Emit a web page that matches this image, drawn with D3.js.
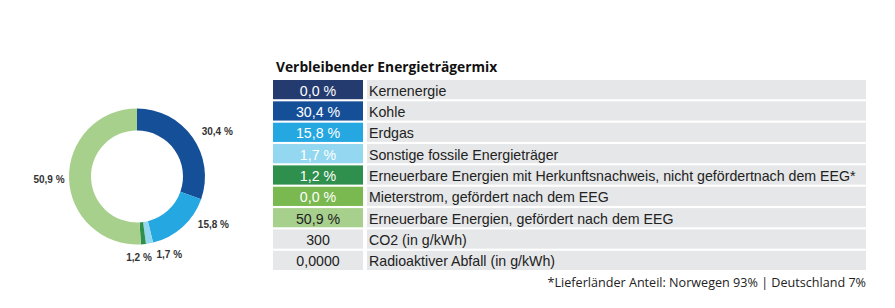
<!DOCTYPE html>
<html>
<head>
<meta charset="utf-8">
<script src="https://cdn.jsdelivr.net/npm/d3@7"></script>
<style>
  body { margin: 0; background: #fff; }
  svg { display: block; }
</style>
</head>
<body>
<svg id="chart"></svg>
<script>
// Table rows (top to bottom)
const rowLabels = [
  'Kernenergie',
  'Kohle',
  'Erdgas',
  'Sonstige fossile Energieträger',
  'Erneuerbare Energien mit Herkunftsnachweis, nicht gefördertnach dem EEG*',
  'Mieterstrom, gefördert nach dem EEG',
  'Erneuerbare Energien, gefördert nach dem EEG',
  'CO2 (in g/kWh)',
  'Radioaktiver Abfall (in g/kWh)'
];
const rowValues = ['0,0 %', '30,4 %', '15,8 %', '1,7 %', '1,2 %', '0,0 %', '50,9 %', '300', '0,0000'];
const rowColors = ['#243b6f', '#154f97', '#25a7e1', '#93d7f0', '#2f8f4c', '#7ab850', '#a8d08d', '#e6e7e8', '#e6e7e8'];
const rowTextColors = ['#fff', '#fff', '#fff', '#fff', '#fff', '#fff', '#222', '#222', '#222'];

// Donut shares (percent), same order as the first seven rows
const mixNames = ['Kernenergie', 'Kohle', 'Erdgas', 'Sonstige', 'EE mit HKN', 'Mieterstrom', 'EE EEG'];
const mixShares = [0.0, 30.4, 15.8, 1.7, 1.2, 0.0, 50.9];
const mixLabels = ['0,0 %', '30,4 %', '15,8 %', '1,7 %', '1,2 %', '0,0 %', '50,9 %'];

const title = 'Verbleibender Energieträgermix';
const footnote = '*Lieferländer Anteil: Norwegen 93% | Deutschland 7%';

const width = 895, height = 308;
const svg = d3.select('#chart').attr('width', width).attr('height', height);

// Donut
const cx = 137, cy = 176.5, rOuter = 68, rInner = 46;
// label placement tweaks (angle nudge in degrees, radius) so crowded labels don't collide
const labelNudge = [0, 6, -16, -12, 4, 0, 0];
const labelRadius = [90, 92, 90, 84, 81.5, 90, 88];

const pie = d3.pie().sort(null).value(d => d)(mixShares);
const arc = d3.arc().innerRadius(rInner).outerRadius(rOuter);
const gd = svg.append('g').attr('transform', `translate(${cx},${cy})`);

gd.selectAll('path')
  .data(pie)
  .join('path')
  .attr('d', arc)
  .attr('fill', (d, i) => rowColors[i]);

const labelAngle = d => (d.startAngle + d.endAngle) / 2 + labelNudge[d.index] * Math.PI / 180;

gd.selectAll('text')
  .data(pie.filter(d => d.value > 0))
  .join('text')
  .attr('x', d => labelRadius[d.index] * Math.sin(labelAngle(d)))
  .attr('y', d => -labelRadius[d.index] * Math.cos(labelAngle(d)))
  .attr('text-anchor', 'middle')
  .attr('dominant-baseline', 'central')
  .attr('font-family', '"Liberation Sans", Arial, sans-serif')
  .attr('font-size', '10px')
  .attr('font-weight', 'bold')
  .attr('fill', '#333')
  .text(d => mixLabels[d.index]);

// Table
const tx = 273, valW = 90, gap = 4, labW = 866 - (tx + valW + gap);
const y = d3.scaleBand()
  .domain(d3.range(rowLabels.length))
  .range([80, 270])
  .paddingInner(0.1);

svg.append('text')
  .attr('x', 276).attr('y', 72)
  .attr('font-family', '"Open Sans", sans-serif')
  .attr('font-size', '13.8px')
  .attr('font-weight', 'bold')
  .attr('fill', '#111')
  .text(title);

const rows = svg.append('g').selectAll('g')
  .data(rowLabels)
  .join('g')
  .attr('transform', (d, i) => `translate(0,${y(i)})`);

rows.append('rect')
  .attr('x', tx).attr('width', valW)
  .attr('height', y.bandwidth())
  .attr('fill', (d, i) => rowColors[i]);

rows.append('rect')
  .attr('x', tx + valW + gap).attr('width', labW)
  .attr('height', y.bandwidth())
  .attr('fill', '#e6e7e8');

rows.append('text')
  .attr('x', tx + valW / 2)
  .attr('y', y.bandwidth() / 2 + 1)
  .attr('text-anchor', 'middle')
  .attr('dominant-baseline', 'central')
  .attr('font-family', '"Liberation Sans", Arial, sans-serif')
  .attr('font-size', '14.2px')
  .attr('fill', (d, i) => rowTextColors[i])
  .text((d, i) => rowValues[i]);

rows.append('text')
  .attr('x', tx + valW + gap + 2)
  .attr('y', y.bandwidth() / 2 + 1)
  .attr('dominant-baseline', 'central')
  .attr('font-family', '"Liberation Sans", Arial, sans-serif')
  .attr('font-size', '14.2px')
  .attr('fill', '#222')
  .text(d => d);

svg.append('text')
  .attr('x', 866).attr('y', 287)
  .attr('text-anchor', 'end')
  .attr('font-family', '"Open Sans", sans-serif')
  .attr('font-size', '12.6px')
  .attr('fill', '#222')
  .text(footnote);
</script>
</body>
</html>
